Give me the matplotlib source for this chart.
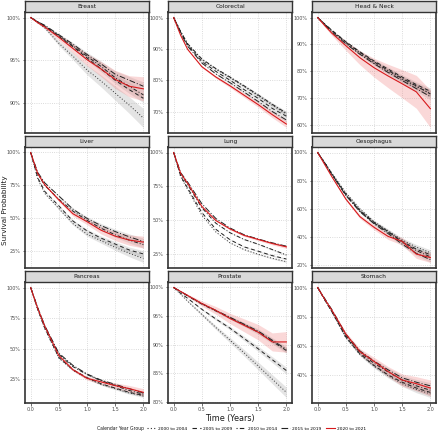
import numpy as np
import matplotlib
matplotlib.use("Agg")
import matplotlib.pyplot as plt
from matplotlib.lines import Line2D
from matplotlib.ticker import MultipleLocator, FuncFormatter

times = [0, 0.125, 0.25, 0.5, 0.75, 1.0, 1.25, 1.5, 1.75, 2.0]
groups = ["2000 to 2004", "2005 to 2009", "2010 to 2014", "2015 to 2019", "2020 to 2021"]
cancers = ["Breast", "Colorectal", "Head & Neck", "Liver", "Lung",
           "Oesophagus", "Pancreas", "Prostate", "Stomach"]

# survival (%) per group, rows in the order of `groups`
breast = [[100, 99.4, 98.8, 97.0, 95.5, 93.9, 92.6, 91.2, 89.8, 88.3],
          [100, 99.5, 99.0, 97.8, 96.6, 95.3, 94.0, 92.7, 91.6, 90.6],
          [100, 99.5, 99.0, 97.9, 96.7, 95.5, 94.3, 93.0, 92.0, 91.0],
          [100, 99.5, 99.1, 98.0, 96.9, 95.7, 94.6, 93.4, 92.7, 92.0],
          [100, 99.4, 98.9, 97.7, 96.4, 95.1, 94.0, 92.8, 92.0, 91.7]]
colorectal = [[100, 95.5, 91.5, 86.5, 83.5, 80.8, 78.0, 75.0, 72.0, 69.2],
              [100, 95.3, 91.2, 86.0, 82.8, 80.0, 77.0, 74.2, 71.0, 68.5],
              [100, 95.5, 91.6, 86.8, 83.7, 81.0, 78.2, 75.3, 72.3, 69.5],
              [100, 95.0, 90.8, 85.5, 82.0, 79.2, 76.2, 73.2, 70.0, 67.3],
              [100, 94.3, 89.8, 84.3, 81.0, 78.2, 75.2, 72.2, 69.0, 66.0]]
head_neck = [[100, 97.5, 95.0, 90.5, 86.5, 83.0, 80.0, 77.0, 74.3, 71.8],
             [100, 97.6, 95.3, 91.0, 87.2, 83.8, 80.8, 77.8, 75.0, 72.5],
             [100, 97.5, 95.2, 90.8, 87.0, 83.5, 80.3, 77.3, 74.5, 71.5],
             [100, 97.3, 94.7, 90.2, 86.3, 82.8, 79.5, 76.5, 73.5, 70.5],
             [100, 97.0, 94.2, 89.5, 85.0, 81.3, 78.2, 75.3, 72.3, 66.0]]
liver = [[100, 80.0, 69.0, 57.5, 46.0, 38.0, 33.0, 28.0, 23.5, 19.5],
         [100, 81.0, 70.5, 59.5, 48.0, 40.5, 35.0, 30.5, 26.0, 23.0],
         [100, 84.0, 75.0, 64.5, 55.5, 48.5, 42.5, 37.5, 33.5, 30.0],
         [100, 85.0, 77.0, 67.0, 57.0, 50.0, 44.5, 40.0, 36.0, 32.5],
         [100, 84.0, 75.5, 64.0, 53.5, 47.5, 41.0, 36.5, 33.5, 32.0]]
lung = [[100, 82.0, 72.5, 53.5, 41.0, 33.0, 28.0, 24.5, 21.5, 19.0],
        [100, 82.5, 73.5, 55.5, 43.0, 35.3, 30.0, 26.8, 23.5, 21.0],
        [100, 84.0, 76.0, 59.0, 47.5, 40.5, 35.5, 32.0, 28.0, 24.0],
        [100, 85.0, 78.0, 62.0, 51.0, 44.0, 39.0, 35.8, 33.0, 30.5],
        [100, 84.5, 77.0, 60.0, 49.5, 43.3, 38.5, 35.5, 32.5, 30.0]]
oesophagus = [[100, 93.0, 85.5, 71.5, 60.0, 51.0, 44.5, 38.0, 33.0, 29.0],
              [100, 92.8, 85.0, 70.5, 59.0, 50.5, 44.0, 37.0, 31.5, 27.5],
              [100, 92.5, 84.8, 70.0, 58.5, 50.0, 43.5, 36.5, 30.5, 26.0],
              [100, 92.5, 84.5, 69.5, 58.0, 49.5, 42.5, 35.0, 28.5, 24.0],
              [100, 91.5, 83.0, 67.0, 54.5, 47.0, 40.5, 37.0, 28.0, 25.5]]
pancreas = [[100, 82.0, 66.5, 42.5, 32.5, 26.0, 21.0, 17.5, 14.0, 11.5],
            [100, 82.5, 67.0, 43.0, 33.0, 26.5, 21.5, 18.0, 14.5, 12.0],
            [100, 83.5, 68.5, 45.5, 35.5, 29.0, 24.0, 20.0, 16.0, 13.0],
            [100, 83.5, 69.0, 46.5, 36.5, 29.5, 24.5, 21.0, 17.5, 14.0],
            [100, 83.0, 68.5, 44.5, 33.0, 26.0, 23.0, 20.0, 17.5, 14.5]]
prostate = [[100, 98.8, 97.6, 95.3, 93.0, 90.8, 88.6, 86.3, 84.0, 81.7],
            [100, 99.0, 98.1, 96.2, 94.5, 92.9, 91.1, 89.3, 87.4, 85.5],
            [100, 99.3, 98.5, 97.1, 95.9, 94.7, 93.5, 92.2, 90.6, 89.0],
            [100, 99.3, 98.6, 97.2, 96.0, 94.8, 93.6, 92.4, 90.8, 89.2],
            [100, 99.3, 98.6, 97.2, 96.0, 94.6, 93.4, 92.2, 90.5, 90.5]]
stomach = [[100, 91.5, 83.5, 65.5, 54.0, 46.0, 39.5, 34.0, 30.0, 27.0],
           [100, 91.5, 83.5, 66.0, 54.5, 46.5, 40.0, 35.0, 31.0, 28.0],
           [100, 92.0, 84.0, 67.0, 55.5, 48.0, 42.0, 36.5, 32.5, 29.5],
           [100, 92.5, 85.0, 68.0, 56.5, 49.5, 43.5, 38.0, 35.0, 32.5],
           [100, 92.0, 84.5, 68.0, 56.0, 49.3, 42.3, 36.5, 34.0, 31.0]]

survival = [breast, colorectal, head_neck, liver, lung,
            oesophagus, pancreas, prostate, stomach]

# 95% CI half-width (percentage points) at 2 years, per group
ci_end = [[1.1, 0.5, 0.5, 0.5, 1.4],
          [0.6, 0.6, 0.6, 0.6, 1.1],
          [1.3, 1.2, 1.2, 1.2, 7.0],
          [3.0, 2.5, 2.5, 2.5, 4.5],
          [0.6, 0.6, 0.6, 0.6, 1.2],
          [2.0, 1.8, 1.8, 1.8, 3.5],
          [1.2, 1.0, 1.0, 1.0, 3.0],
          [0.9, 0.6, 0.5, 0.5, 1.8],
          [2.5, 2.2, 2.2, 2.2, 5.5]]

tick_step = [5, 10, 10, 25, 25, 20, 25, 5, 20]

line_styles = [(0, (1, 2)), (0, (4, 3)), (0, (1, 2, 4, 2)), (0, (6, 2, 1, 2)), "-"]
line_colors = ["#333333", "#222222", "#222222", "#222222", "#d7191c"]

W, H = 440, 433
fig = plt.figure(figsize=(4.4, 4.33), dpi=100)

col_left = [25, 168, 312]
row_top = [12, 147, 282]
pw, ph, sh = 124, 121, 11
border = "#333333"
t = np.array(times)

for i, name in enumerate(cancers):
    r, c = divmod(i, 3)
    x0, y0 = col_left[c], row_top[r]
    ax = fig.add_axes([x0 / W, 1 - (y0 + ph) / H, pw / W, ph / H])
    strip = fig.add_axes([x0 / W, 1 - y0 / H, pw / W, sh / H])

    data = np.array(survival[i], dtype=float)
    lows = []
    for g in range(5):
        hw = ci_end[i][g] * t / 2.0
        lo, hi = data[g] - hw, data[g] + hw
        lows.append(lo.min())
        fc = "#f08080" if g == 4 else "#888888"
        al = 0.3 if g == 4 else 0.22
        ax.fill_between(t, lo, hi, color=fc, alpha=al, linewidth=0)
    for g in range(5):
        ax.plot(t, data[g], color=line_colors[g], linestyle=line_styles[g],
                linewidth=0.8 if g == 4 else 0.7, zorder=3)

    ymin = min(lows)
    span = 100 - ymin
    ax.set_ylim(ymin - 0.05 * span, 100 + 0.05 * span)
    ax.set_xlim(-0.1, 2.1)
    ax.yaxis.set_major_locator(MultipleLocator(tick_step[i]))
    ax.yaxis.set_major_formatter(FuncFormatter(lambda v, p: f"{v:.0f}%"))
    ax.xaxis.set_major_locator(MultipleLocator(0.5))
    ax.xaxis.set_major_formatter(FuncFormatter(lambda v, p: f"{v:.1f}"))
    ax.grid(True, color="#cfcfcf", linestyle=":", linewidth=0.6)
    ax.set_axisbelow(True)
    ax.tick_params(labelsize=3.5, length=1.8, width=0.5, color=border,
                   labelcolor="#4d4d4d", pad=1.2)
    if r < 2:
        ax.tick_params(axis="x", bottom=False, labelbottom=False)
    for s in ax.spines.values():
        s.set_color(border)
        s.set_linewidth(1.2)

    strip.set_facecolor("#d9d9d9")
    strip.set_xticks([])
    strip.set_yticks([])
    for s in strip.spines.values():
        s.set_color(border)
        s.set_linewidth(1.0)
    strip.text(0.5, 0.5, name, ha="center", va="center", fontsize=4.2,
               color="#1a1a1a", transform=strip.transAxes)

fig.text(5 / W, 0.515, "Survival Probability", rotation=90, ha="center",
         va="center", fontsize=5.2, color="#1a1a1a")
fig.text(230 / W, 1 - 418.5 / H, "Time (Years)", ha="center", va="center",
         fontsize=5.8, color="#1a1a1a")

fig.text(97 / W, 1 - 428.5 / H, "Calendar Year Group", ha="left", va="center",
         fontsize=3.3, color="#1a1a1a")
handles = [Line2D([0], [0], color=line_colors[g], linestyle=line_styles[g],
                  linewidth=0.8) for g in range(5)]
fig.legend(handles, groups, loc="center left", bbox_to_anchor=(147 / W, 1 - 428.5 / H),
           ncol=5, frameon=False, fontsize=3.2, handlelength=2.0,
           handletextpad=0.5, columnspacing=1.0, borderpad=0, borderaxespad=0)

fig.savefig("out.png", dpi=100)
